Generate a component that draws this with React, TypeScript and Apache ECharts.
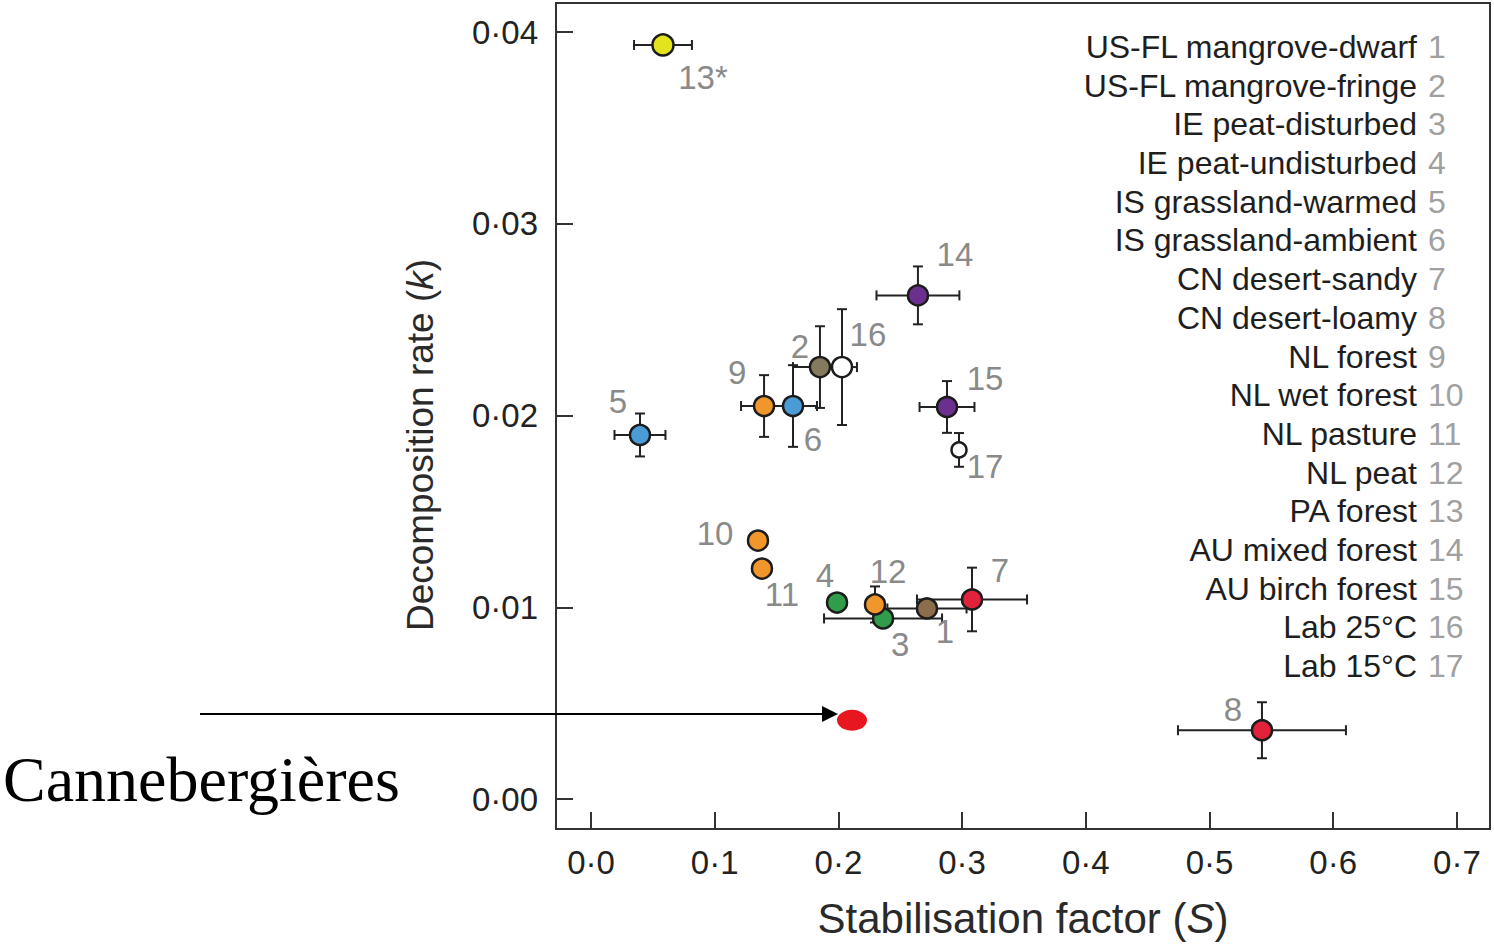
import React, { useEffect, useRef } from "react";
import * as echarts from "echarts";

// ---- Data ----
const SITE_NAMES = [
  "US-FL mangrove-dwarf",
  "US-FL mangrove-fringe",
  "IE peat-disturbed",
  "IE peat-undisturbed",
  "IS grassland-warmed",
  "IS grassland-ambient",
  "CN desert-sandy",
  "CN desert-loamy",
  "NL forest",
  "NL wet forest",
  "NL pasture",
  "NL peat",
  "PA forest",
  "AU mixed forest",
  "AU birch forest",
  "Lab 25°C",
  "Lab 15°C",
];
const SITE_IDS = ["1", "2", "3", "4", "5", "6", "7", "8", "9", "10", "11", "12", "13*", "14", "15", "16", "17"];
const LEGEND_IDS = ["1", "2", "3", "4", "5", "6", "7", "8", "9", "10", "11", "12", "13", "14", "15", "16", "17"];

// Stabilisation factor S
const SITE_S = [0.2716, 0.1851, 0.2361, 0.1989, 0.0396, 0.1633, 0.308, 0.5424, 0.1399, 0.135, 0.1382, 0.2296, 0.0582, 0.2643, 0.2878, 0.2029, 0.2975];
// Decomposition rate k
const SITE_K = [0.00994, 0.02253, 0.00942, 0.01025, 0.01899, 0.0205, 0.01041, 0.00359, 0.0205, 0.01348, 0.01202, 0.01015, 0.03933, 0.02627, 0.02045, 0.02253, 0.01821];
// Error half-widths
const S_ERR = [0.032, 0.0218, 0.0477, 0, 0.0206, 0.0194, 0.0445, 0.0679, 0.0186, 0, 0, 0, 0.0234, 0.0335, 0.0222, 0.0121, 0];
const K_ERR = [0, 0.00213, 0, 0, 0.00112, 0.00213, 0.00166, 0.00146, 0.00161, 0, 0, 0.00094, 0, 0.00151, 0.00135, 0.00302, 0.00088];

// Cranberry (Cannebergières) point
const CRAN_LABEL = "Cannebergières";
const CRAN_S = 0.211;
const CRAN_K = 0.00411;

const X_TICKS = [0, 0.1, 0.2, 0.3, 0.4, 0.5, 0.6, 0.7];
const Y_TICKS = [0, 0.01, 0.02, 0.03, 0.04];

// ---- Styles ----
const SITE_COLORS = [
  "#8d6e4c", "#857a5e", "#2f9d4a", "#2f9d4a", "#4b9bd6", "#4b9bd6", "#e2213b", "#e2213b",
  "#f0962a", "#f0962a", "#f0962a", "#f0962a", "#e4e41e", "#6b2f8f", "#6b2f8f", "#ffffff", "#ffffff",
];
const LABEL_OFFSETS: [number, number][] = [
  [18, 23], [-20, -21], [17, 26], [-12, -27], [-22, -33], [20, 33], [28, -29], [-29, -21],
  [-27, -34], [-43, -7], [20, 26], [13, -33], [40, 33], [37, -41], [38, -28], [26, -33], [26, 17],
];
const MARKER_SIZES = [20, 20, 20, 20, 20, 20, 20, 20, 20, 20, 20, 20, 21, 20, 20, 20, 15];

const FONT = "'Liberation Sans', Arial, Helvetica, sans-serif";
const fmt = (v: number, d: number) => v.toFixed(d).replace(".", "·");

export default function App() {
  const ref = useRef<HTMLDivElement>(null);

  useEffect(() => {
    if (!ref.current) return;
    const chart = echarts.init(ref.current, undefined, { renderer: "svg" });

    const errData = SITE_S.map((s, i) => [s, SITE_K[i], S_ERR[i], K_ERR[i]]);
    const ptData = SITE_S.map((s, i) => ({
      value: [s, SITE_K[i]],
      symbolSize: MARKER_SIZES[i],
      itemStyle: { color: SITE_COLORS[i], borderColor: "#1c1c1c", borderWidth: 2.5, opacity: 1 },
      label: { offset: LABEL_OFFSETS[i], formatter: SITE_IDS[i] },
    }));

    const legendTop = 47;
    const legendStep = 38.69;
    const legendEls: any[] = [];
    SITE_NAMES.forEach((name, i) => {
      legendEls.push({
        type: "text",
        x: 1417,
        y: legendTop + i * legendStep,
        style: {
          text: name,
          font: `32px ${FONT}`,
          fill: "#1e1e1e",
          align: "right",
          verticalAlign: "middle",
        },
      });
      legendEls.push({
        type: "text",
        x: 1428,
        y: legendTop + i * legendStep,
        style: {
          text: LEGEND_IDS[i],
          font: `32px ${FONT}`,
          fill: "#a0a0a0",
          align: "left",
          verticalAlign: "middle",
        },
      });
    });

    const option: any = {
      animation: false,
      backgroundColor: "#ffffff",
      grid: {
        left: 556,
        right: 4,
        top: 3,
        bottom: 113,
        show: true,
        borderColor: "#333",
        borderWidth: 2,
      },
      xAxis: {
        type: "value",
        min: -0.02829,
        max: 0.72676,
        splitLine: { show: false },
        axisLine: { show: true, onZero: false, lineStyle: { color: "#333", width: 2 } },
        axisTick: {
          show: true,
          inside: true,
          length: 17,
          customValues: X_TICKS,
          lineStyle: { color: "#333", width: 2 },
        },
        axisLabel: {
          customValues: X_TICKS,
          formatter: (v: number) => fmt(v, 1),
          fontSize: 33,
          fontFamily: FONT,
          color: "#222",
          margin: 17,
        },
        name: "{n|Stabilisation factor (}{i|S}{n|)}",
        nameLocation: "middle",
        nameGap: 68,
        nameTextStyle: {
          rich: {
            n: { fontSize: 42, fontFamily: FONT, color: "#2a2a2a" },
            i: { fontSize: 42, fontFamily: FONT, color: "#2a2a2a", fontStyle: "italic" },
          },
        },
      },
      yAxis: {
        type: "value",
        min: -0.001561,
        max: 0.041519,
        splitLine: { show: false },
        axisLine: { show: true, onZero: false, lineStyle: { color: "#333", width: 2 } },
        axisTick: {
          show: true,
          inside: true,
          length: 17,
          customValues: Y_TICKS,
          lineStyle: { color: "#333", width: 2 },
        },
        axisLabel: {
          customValues: Y_TICKS,
          formatter: (v: number) => fmt(v, 2),
          fontSize: 33,
          fontFamily: FONT,
          color: "#222",
          margin: 18,
        },
      },
      series: [
        {
          type: "custom",
          z: 2,
          dimensions: ["s", "k", "es", "ek"],
          encode: { x: 0, y: 1 },
          data: errData,
          renderItem: (_params: any, api: any) => {
            const x = api.value(0);
            const y = api.value(1);
            const ex = api.value(2);
            const ey = api.value(3);
            const children: any[] = [];
            const style = { stroke: "#222", lineWidth: 2 };
            const cap = 5;
            if (ex > 0) {
              const a = api.coord([x - ex, y]);
              const b = api.coord([x + ex, y]);
              children.push({ type: "line", shape: { x1: a[0], y1: a[1], x2: b[0], y2: b[1] }, style });
              children.push({ type: "line", shape: { x1: a[0], y1: a[1] - cap, x2: a[0], y2: a[1] + cap }, style });
              children.push({ type: "line", shape: { x1: b[0], y1: b[1] - cap, x2: b[0], y2: b[1] + cap }, style });
            }
            if (ey > 0) {
              const a = api.coord([x, y - ey]);
              const b = api.coord([x, y + ey]);
              children.push({ type: "line", shape: { x1: a[0], y1: a[1], x2: b[0], y2: b[1] }, style });
              children.push({ type: "line", shape: { x1: a[0] - cap, y1: a[1], x2: a[0] + cap, y2: a[1] }, style });
              children.push({ type: "line", shape: { x1: b[0] - cap, y1: b[1], x2: b[0] + cap, y2: b[1] }, style });
            }
            return { type: "group", children };
          },
        },
        {
          type: "scatter",
          z: 3,
          symbol: "circle",
          data: ptData,
          itemStyle: { opacity: 1 },
          label: {
            show: true,
            position: "inside",
            align: "center",
            verticalAlign: "middle",
            fontSize: 33,
            fontFamily: FONT,
            color: "#8a8a8a",
            textBorderWidth: 0,
          },
          emphasis: { disabled: true },
        },
        {
          type: "scatter",
          z: 3,
          name: CRAN_LABEL,
          symbol: "circle",
          symbolSize: [30, 21],
          itemStyle: { color: "#e8161e", borderWidth: 0, opacity: 1 },
          data: [[CRAN_S, CRAN_K]],
          emphasis: { disabled: true },
        },
      ],
      graphic: [
        ...legendEls,
        {
          type: "text",
          x: 420,
          y: 445,
          rotation: Math.PI / 2,
          style: {
            text: "{n|Decomposition rate (}{i|k}{n|)}",
            align: "center",
            verticalAlign: "middle",
            rich: {
              n: { fontSize: 37, fontFamily: FONT, fill: "#2a2a2a" },
              i: { fontSize: 37, fontFamily: FONT, fill: "#2a2a2a", fontStyle: "italic" },
            },
          },
        },
        {
          type: "line",
          shape: { x1: 200, y1: 714, x2: 824, y2: 714 },
          style: { stroke: "#000", lineWidth: 2 },
          z: 10,
        },
        {
          type: "polygon",
          shape: { points: [[838, 714], [822, 706], [822, 722]] },
          style: { fill: "#000" },
          z: 10,
        },
        {
          type: "text",
          x: 3,
          y: 779,
          style: {
            text: CRAN_LABEL,
            font: "64px 'Liberation Serif', 'Times New Roman', serif",
            fill: "#000",
            align: "left",
            verticalAlign: "middle",
          },
          z: 10,
        },
      ],
    };

    chart.setOption(option);
    return () => chart.dispose();
  }, []);

  return (
    <div
      ref={ref}
      style={{ position: "absolute", left: 0, top: 0, width: 1494, height: 944, background: "#fff" }}
    />
  );
}
